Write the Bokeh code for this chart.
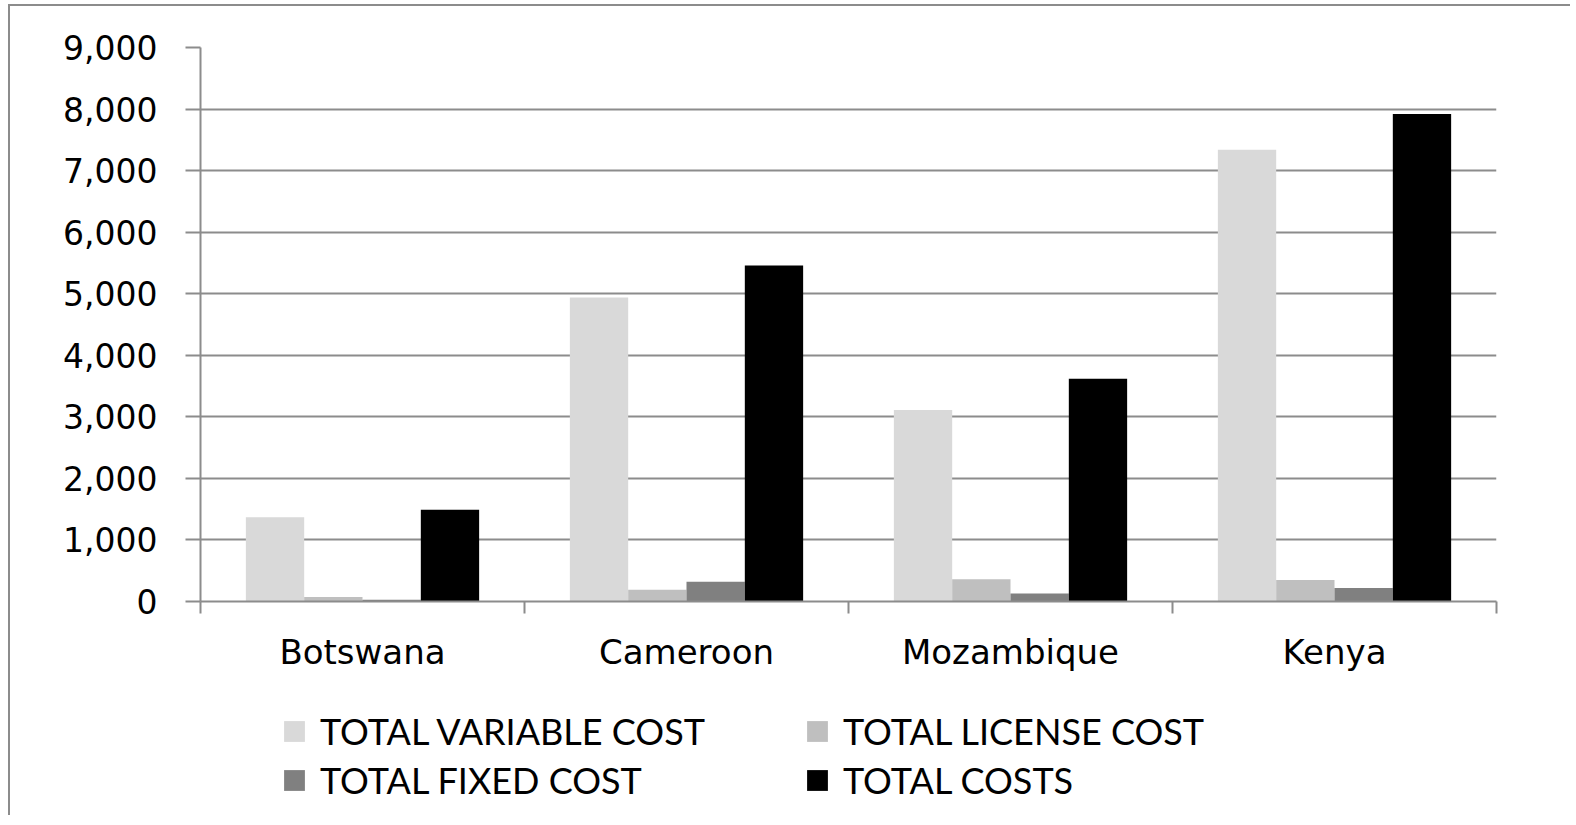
from bokeh.plotting import figure
from bokeh.layouts import column
from bokeh.models import FixedTicker, NumeralTickFormatter, Legend, LegendItem, Range1d
from bokeh.embed import file_html
from bokeh.resources import INLINE

countries = ["Botswana", "Cameroon", "Mozambique", "Kenya"]
variable_cost = [1370, 4940, 3110, 7340]
license_cost = [75, 190, 360, 350]
fixed_cost = [30, 320, 130, 220]
total_costs = [1490, 5460, 3620, 7920]
series_names = ["TOTAL VARIABLE COST", "TOTAL LICENSE COST", "TOTAL FIXED COST", "TOTAL COSTS"]
series_colors = ["#d9d9d9", "#bfbfbf", "#808080", "#000000"]
y_ticks = [0, 1000, 2000, 3000, 4000, 5000, 6000, 7000, 8000, 9000]

series = [variable_cost, license_cost, fixed_cost, total_costs]

GRID = "#8c8c8c"
bar_w = 0.18
group_start = 0.14

p = figure(width=1560, height=684, output_backend="svg", toolbar_location=None,
           x_range=Range1d(0, len(countries)), y_range=Range1d(0, 9000),
           min_border_left=190, min_border_top=41, min_border_right=74, min_border_bottom=89)
p.outline_line_color = None
p.background_fill_color = "white"
p.border_fill_color = "white"

for k, vals in enumerate(series):
    xs = [i + group_start + bar_w * (k + 0.5) for i in range(len(countries))]
    p.vbar(x=xs, top=vals, bottom=0, width=bar_w, fill_color=series_colors[k], line_color=None)

# y axis
p.yaxis.ticker = FixedTicker(ticks=y_ticks)
p.yaxis.formatter = NumeralTickFormatter(format="0,0")
p.yaxis.major_label_text_font = "DejaVu Sans"
p.yaxis.major_label_text_font_size = "33px"
p.yaxis.major_label_text_color = "black"
p.yaxis.axis_line_color = GRID
p.yaxis.axis_line_width = 2
p.yaxis.major_tick_line_color = GRID
p.yaxis.major_tick_line_width = 2
p.yaxis.major_tick_out = 15
p.yaxis.major_tick_in = 0
p.yaxis.minor_tick_line_color = None
p.yaxis.major_label_standoff = 28

# x axis
centers = [i + 0.5 for i in range(len(countries))]
p.xaxis.ticker = FixedTicker(ticks=centers, minor_ticks=list(range(len(countries) + 1)))
p.xaxis.major_label_overrides = {c: n for c, n in zip(centers, countries)}
p.xaxis.major_label_text_font = "DejaVu Sans"
p.xaxis.major_label_text_font_size = "34px"
p.xaxis.major_label_text_color = "black"
p.xaxis.axis_line_color = GRID
p.xaxis.axis_line_width = 2
p.xaxis.major_tick_line_color = None
p.xaxis.major_tick_out = 0
p.xaxis.major_tick_in = 0
p.xaxis.minor_tick_line_color = GRID
p.xaxis.minor_tick_line_width = 2
p.xaxis.minor_tick_out = 12
p.xaxis.minor_tick_in = 0
p.xaxis.major_label_standoff = 18

p.xgrid.grid_line_color = None
p.ygrid.grid_line_color = GRID
p.ygrid.grid_line_width = 2

# legend panel (swatch renderers sit outside the visible range; only their legend glyphs show)
lg = figure(width=1560, height=125, output_backend="svg", toolbar_location=None,
            x_range=Range1d(0, 1), y_range=Range1d(0, 1),
            x_axis_location=None, y_axis_location=None,
            min_border_left=0, min_border_right=0, min_border_top=0, min_border_bottom=0)
lg.outline_line_color = None
lg.xgrid.grid_line_color = None
lg.ygrid.grid_line_color = None
lg.border_fill_color = "white"

swatches = [lg.vbar(x=[-5], top=[0], width=0.01, fill_color=c, line_color=None)
            for c in series_colors]
items = [LegendItem(label=n, renderers=[r]) for n, r in zip(series_names, swatches)]

for col_items, xpos in ((items[0::2], 81), (items[1::2], 604)):
    leg = Legend(items=col_items, location=(xpos, 13))
    leg.label_text_font = "Lato"
    leg.label_text_font_size = "36px"
    leg.label_text_color = "black"
    leg.glyph_width = 26
    leg.glyph_height = 26
    leg.label_height = 42
    leg.label_standoff = 13
    leg.spacing = 5
    leg.padding = 0
    leg.margin = 0
    leg.border_line_color = None
    leg.background_fill_alpha = 0
    lg.add_layout(leg, "center")

layout = column(p, lg, spacing=0)
layout.styles = {"margin-left": "8px", "margin-top": "4px",
                 "border-left": "2px solid #8c8c8c", "border-top": "2px solid #8c8c8c"}

open("out.html", "w").write(file_html(layout, INLINE))
